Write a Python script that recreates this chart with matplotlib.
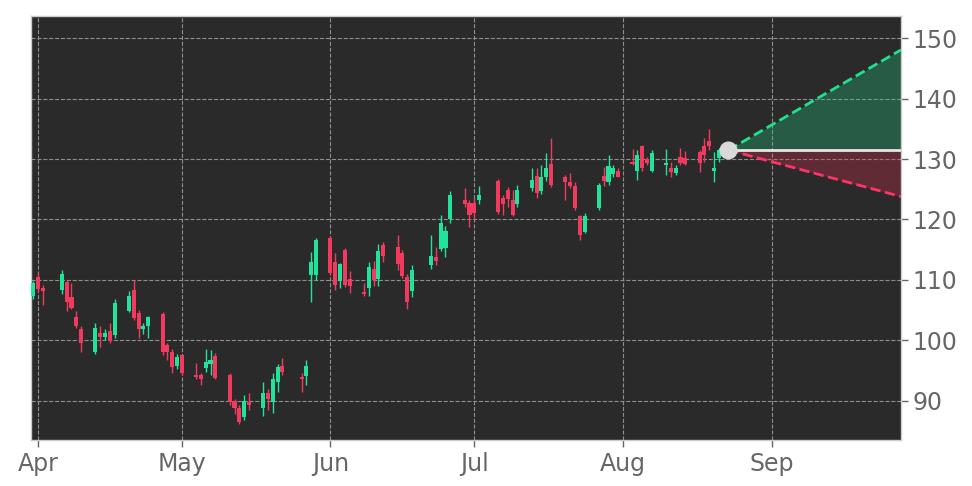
import numpy as np
import pandas as pd
import matplotlib
matplotlib.use("Agg")
import matplotlib.pyplot as plt
import matplotlib.dates as mdates

# daily candles (2015)
dates = [
    "2015-03-31", "2015-04-01", "2015-04-02",
    "2015-04-06", "2015-04-07", "2015-04-08", "2015-04-09", "2015-04-10",
    "2015-04-13", "2015-04-14", "2015-04-15", "2015-04-16", "2015-04-17",
    "2015-04-20", "2015-04-21", "2015-04-22", "2015-04-23", "2015-04-24",
    "2015-04-27", "2015-04-28", "2015-04-29", "2015-04-30", "2015-05-01",
    "2015-05-04", "2015-05-05", "2015-05-06", "2015-05-07", "2015-05-08",
    "2015-05-11", "2015-05-12", "2015-05-13", "2015-05-14", "2015-05-15",
    "2015-05-18", "2015-05-19", "2015-05-20", "2015-05-21", "2015-05-22",
    "2015-05-26", "2015-05-27", "2015-05-28", "2015-05-29",
    "2015-06-01", "2015-06-02", "2015-06-03", "2015-06-04", "2015-06-05",
    "2015-06-08", "2015-06-09", "2015-06-10", "2015-06-11", "2015-06-12",
    "2015-06-15", "2015-06-16", "2015-06-17", "2015-06-18",
    "2015-06-22", "2015-06-23", "2015-06-24", "2015-06-25", "2015-06-26",
    "2015-06-29", "2015-06-30", "2015-07-01", "2015-07-02",
    "2015-07-06", "2015-07-07", "2015-07-08", "2015-07-09", "2015-07-10",
    "2015-07-13", "2015-07-14", "2015-07-15", "2015-07-16", "2015-07-17",
    "2015-07-20", "2015-07-21", "2015-07-22", "2015-07-23", "2015-07-24",
    "2015-07-27", "2015-07-28", "2015-07-29", "2015-07-30", "2015-07-31",
    "2015-08-03", "2015-08-04", "2015-08-05", "2015-08-06", "2015-08-07",
    "2015-08-10", "2015-08-11", "2015-08-12", "2015-08-13", "2015-08-14",
    "2015-08-17", "2015-08-18", "2015-08-19", "2015-08-20", "2015-08-21",
]
opens = [
    107.3, 110.4, 108.7,
    108.4, 109.7, 107.1, 103.8, 101.8,
    98.0, 101.2, 100.6, 101.5, 100.8,
    104.9, 108.4, 104.5, 101.9, 102.4,
    104.4, 99.2, 98.0, 95.7, 97.5,
    94.3, 94.3, 95.4, 96.1, 97.4,
    94.3, 90.0, 88.8, 87.2, 89.8,
    88.8, 91.2, 89.8, 93.1, 95.8,
    93.9, 94.1, 110.8, 110.8,
    117.0, 113.0, 109.8, 115.0, 110.2,
    108.0, 108.7, 111.8, 110.2, 115.7,
    115.5, 114.5, 110.4, 108.2,
    112.5, 113.8, 115.1, 115.3, 120.0,
    123.3, 122.8, 122.8, 123.3,
    126.4, 123.6, 124.9, 123.3, 122.5,
    125.2, 127.2, 124.7, 127.1, 129.2,
    127.1, 126.2, 125.6, 120.5, 118.0,
    121.9, 127.2, 126.2, 127.6, 128.0,
    129.6, 128.1, 132.2, 130.0, 128.1,
    129.1, 128.6, 127.7, 130.4, 130.2,
    131.2, 132.1, 133.0, 128.1, 130.2,
]
highs = [
    109.8, 111.1, 109.2,
    111.6, 110.0, 109.5, 104.8, 102.4,
    102.9, 102.3, 101.9, 102.9, 106.8,
    108.1, 110.0, 105.0, 102.8, 104.0,
    104.6, 99.5, 98.6, 97.8, 97.7,
    96.3, 94.5, 98.6, 98.3, 97.9,
    94.5, 90.3, 89.2, 91.0, 91.3,
    93.1, 92.0, 94.6, 96.0, 97.1,
    94.6, 96.8, 114.6, 117.0,
    117.3, 114.5, 112.8, 115.3, 111.5,
    109.5, 113.0, 113.2, 116.0, 116.2,
    117.5, 115.0, 111.0, 112.5,
    117.5, 115.5, 120.8, 119.0, 124.8,
    125.2, 123.3, 123.5, 125.6,
    126.7, 124.0, 125.4, 124.9, 125.7,
    128.6, 128.5, 129.0, 131.0, 133.5,
    127.3, 127.7, 126.2, 120.8, 121.1,
    126.0, 128.7, 130.6, 129.0, 128.6,
    131.7, 131.5, 132.4, 130.4, 131.5,
    131.7, 129.5, 129.0, 131.9, 131.4,
    131.5, 133.5, 135.0, 131.2, 131.8,
]
lows = [
    106.8, 108.0, 105.9,
    107.6, 104.8, 105.1, 102.0, 98.1,
    97.8, 98.8, 100.0, 99.6, 100.3,
    104.6, 103.4, 100.3, 101.0, 100.4,
    97.5, 96.8, 94.6, 95.2, 94.2,
    93.5, 92.6, 94.8, 94.3, 93.6,
    89.2, 87.7, 86.1, 86.8, 88.5,
    87.5, 88.5, 88.0, 91.5, 94.2,
    91.5, 92.6, 106.4, 110.0,
    111.0, 108.4, 108.6, 108.8, 107.9,
    107.3, 107.4, 109.0, 109.0, 112.9,
    111.7, 110.3, 105.2, 107.2,
    111.8, 112.5, 114.8, 113.8, 119.5,
    122.0, 118.8, 120.0, 122.5,
    120.9, 120.8, 122.1, 120.5, 122.0,
    124.8, 123.6, 124.3, 126.4, 125.4,
    123.3, 125.2, 121.5, 116.6, 117.7,
    121.5, 125.6, 125.7, 127.0, 127.0,
    129.0, 126.6, 128.1, 129.0, 127.8,
    127.4, 127.1, 127.3, 129.0, 129.0,
    127.9, 129.5, 131.5, 126.2, 129.6,
]
closes = [
    109.5, 108.5, 108.2,
    111.0, 106.3, 105.3, 102.4, 99.5,
    102.1, 100.5, 101.2, 99.8, 106.1,
    107.3, 103.6, 101.8, 102.4, 103.8,
    98.0, 98.0, 95.6, 97.2, 94.5,
    93.9, 93.5, 96.4, 96.8, 93.8,
    89.8, 88.8, 86.5, 90.0, 89.3,
    91.2, 90.3, 93.5, 95.6, 94.8,
    93.6, 95.8, 113.0, 116.6,
    111.2, 109.2, 112.6, 109.1, 108.9,
    107.6, 112.2, 110.0, 114.8, 113.9,
    112.7, 110.6, 106.4, 111.7,
    114.0, 113.2, 119.4, 118.1, 124.1,
    122.5, 120.8, 121.0, 124.1,
    121.3, 122.5, 123.4, 120.8, 124.9,
    126.5, 124.4, 127.1, 128.6, 125.7,
    126.2, 125.6, 121.9, 117.5, 120.5,
    125.7, 126.4, 128.9, 128.6, 127.1,
    129.2, 130.7, 128.6, 129.4, 131.0,
    129.4, 127.9, 128.6, 129.4, 129.2,
    129.4, 130.6, 132.1, 128.6, 131.5,
]

# forecast cone
cone_dates = ["2015-08-23", "2015-09-28"]
cone_mid = [131.5, 131.5]
cone_up = [131.5, 148.1]
cone_down = [131.5, 123.8]

up_col = "#22e39b"
down_col = "#f23a5e"

x = mdates.date2num(pd.to_datetime(dates))
o = np.array(opens)
h = np.array(highs)
l = np.array(lows)
c = np.array(closes)
rising = c >= o
cols = np.where(rising, up_col, down_col)

fig = plt.figure(figsize=(9.72, 4.86), dpi=100)
ax = fig.add_axes([0.032, 0.095, 0.895, 0.872])
ax.set_facecolor("#2a2a2a")

ax.vlines(x, l, h, colors=cols, linewidth=1, zorder=3)
body_lo = np.minimum(o, c)
body_h = np.maximum(np.abs(c - o), 0.3)
ax.bar(x, body_h, bottom=body_lo, width=0.85, color=cols, linewidth=0, zorder=4)

cx = mdates.date2num(pd.to_datetime(cone_dates))
ax.fill_between(cx, cone_mid, cone_up, color="#25c47f", alpha=0.32, linewidth=0, zorder=2)
ax.fill_between(cx, cone_down, cone_mid, color="#e0304f", alpha=0.3, linewidth=0, zorder=2)
ax.plot(cx, cone_up, color="#1fe08f", linestyle="--", linewidth=2, zorder=5)
ax.plot(cx, cone_down, color="#ff3366", linestyle="--", linewidth=2, zorder=5)
ax.plot(cx, cone_mid, color="#e6e6e6", linewidth=2, zorder=5)
ax.plot(cx[0], cone_mid[0], "o", color="#d9d9d9", markersize=12, zorder=6)

ax.set_xlim(mdates.date2num(pd.Timestamp("2015-03-30 14:00")), cx[-1])
ax.set_ylim(83.5, 153.7)
ax.xaxis.set_major_locator(mdates.MonthLocator())
ax.xaxis.set_major_formatter(mdates.DateFormatter("%b"))
ax.set_yticks([90, 100, 110, 120, 130, 140, 150])

ax.yaxis.tick_right()
ax.grid(True, color="#8f8f8f", linestyle="--", linewidth=0.8, zorder=1)
ax.set_axisbelow(True)
ax.tick_params(axis="both", labelsize=17, colors="#666666", length=5, width=1)
for sp in ax.spines.values():
    sp.set_color("#cccccc")
    sp.set_linewidth(1)

fig.savefig("out.png", dpi=100, facecolor="white")
